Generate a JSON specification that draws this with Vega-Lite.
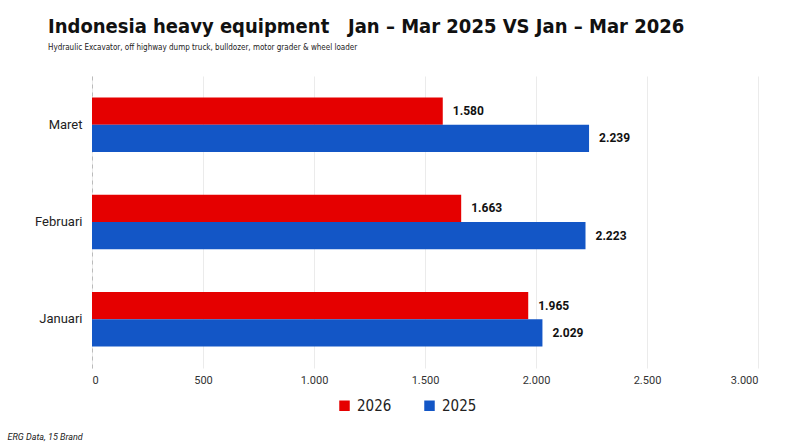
{
  "$schema": "https://vega.github.io/schema/vega-lite/v6.json",
  "width": 666,
  "height": 292,
  "autosize": {"type": "none"},
  "padding": {"left": 92, "top": 76, "right": 45, "bottom": 79},
  "background": "white",
  "config": {
    "locale": {"number": {"decimal": ",", "thousands": ".", "grouping": [3], "currency": ["", ""]}},
    "view": {"stroke": null},
    "font": "Roboto"
  },
  "title": {
    "text": "Indonesia heavy equipment\u00a0\u00a0\u00a0Jan – Mar 2025 VS Jan – Mar 2026",
    "subtitle": "Hydraulic Excavator, off highway dump truck, bulldozer, motor grader & wheel loader",
    "anchor": "start",
    "frame": "group",
    "dx": -44,
    "offset": 24,
    "font": "DejaVu Sans Condensed",
    "fontSize": 20,
    "fontWeight": "bold",
    "color": "#111111",
    "subtitleFont": "DejaVu Sans Condensed",
    "subtitleFontSize": 8,
    "subtitleColor": "#222222",
    "subtitlePadding": 7
  },
  "data": {
    "values": [
      {"month": "Maret", "year": "2026", "units": 1580},
      {"month": "Maret", "year": "2025", "units": 2239},
      {"month": "Februari", "year": "2026", "units": 1663},
      {"month": "Februari", "year": "2025", "units": 2223},
      {"month": "Januari", "year": "2026", "units": 1965},
      {"month": "Januari", "year": "2025", "units": 2029}
    ]
  },
  "encoding": {
    "y": {
      "field": "month",
      "type": "nominal",
      "sort": ["Maret", "Februari", "Januari"],
      "scale": {"paddingInner": 0.44, "paddingOuter": 0.22},
      "axis": {
        "title": null,
        "ticks": false,
        "domainDash": [4, 4],
        "domainColor": "#bbbbbb",
        "labelFontSize": 13,
        "labelColor": "#222222",
        "labelPadding": 10
      }
    },
    "yOffset": {"field": "year", "sort": ["2026", "2025"]},
    "x": {
      "field": "units",
      "type": "quantitative",
      "scale": {"domain": [0, 3000]},
      "axis": {
        "values": [0, 500, 1000, 1500, 2000, 2500, 3000],
        "format": ",d",
        "domain": false,
        "ticks": false,
        "labelFontSize": 11,
        "labelColor": "#333333",
        "labelPadding": 6,
        "gridColor": "#ebebeb",
        "title": "ERG Data, 15 Brand",
        "titleFontStyle": "italic",
        "titleFontWeight": "normal",
        "titleFontSize": 9,
        "titleColor": "#222222",
        "titleAnchor": "start",
        "titleAlign": "left",
        "titleX": -85,
        "titleY": 73,
        "titleBaseline": "bottom"
      }
    }
  },
  "layer": [
    {
      "mark": {"type": "bar"},
      "encoding": {
        "color": {
          "field": "year",
          "type": "nominal",
          "scale": {"domain": ["2026", "2025"], "range": ["#e50000", "#1356c6"]},
          "legend": {
            "title": null,
            "orient": "none",
            "legendX": 245,
            "legendY": 322,
            "direction": "horizontal",
            "symbolType": "square",
            "symbolSize": 110,
            "labelFont": "DejaVu Sans Condensed",
            "labelFontSize": 15,
            "labelColor": "#222222",
            "columnPadding": 30,
            "labelOffset": 5
          }
        }
      }
    },
    {
      "mark": {"type": "text", "align": "left", "dx": 10, "fontWeight": "bold", "fontSize": 12, "color": "#111111"},
      "encoding": {
        "text": {"field": "units", "type": "quantitative", "format": ",d"}
      }
    }
  ]
}
